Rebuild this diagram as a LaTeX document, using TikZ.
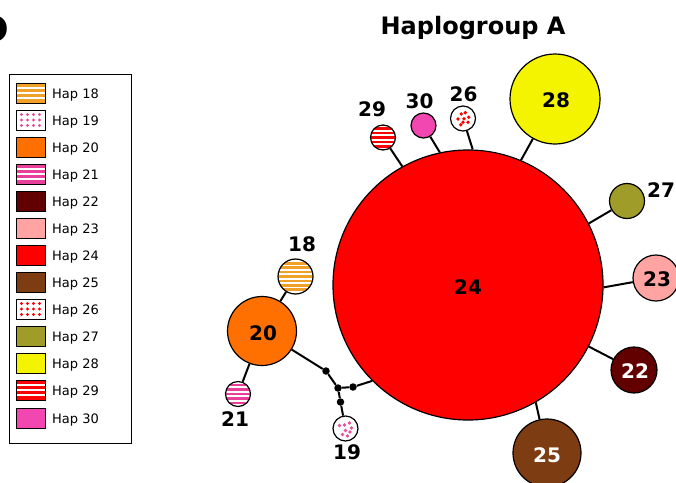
\documentclass[tikz,border=0pt]{standalone}
\usepackage{fontspec}
\setmainfont{DejaVu Sans}
\definecolor{hOrangeLt}{HTML}{F0A228}
\definecolor{hPinkDot}{HTML}{E8509E}
\definecolor{hOrange}{HTML}{FF7000}
\definecolor{hPinkStr}{HTML}{E8409A}
\definecolor{hMaroon}{HTML}{620000}
\definecolor{hSalmon}{HTML}{FFA3A3}
\definecolor{hRed}{HTML}{FF0000}
\definecolor{hBrown}{HTML}{7E3C12}
\definecolor{hOlive}{HTML}{A09C2A}
\definecolor{hYellow}{HTML}{F4F400}
\definecolor{hMagenta}{HTML}{F246B0}
\tikzset{
  hap/.style={circle, draw=black, line width=1.2pt, inner sep=0pt, minimum size=#1},
  link/.style={line width=2pt, black},
  median/.style={circle, fill=black, inner sep=0pt, minimum size=7.5pt},
  numlab/.style={font=\bfseries\fontsize{20}{20}\selectfont, inner sep=0pt},
  stripes/.style={fill=white, path picture={
    \foreach \k in {-5,...,5}
      \fill[#1, shift={(path picture bounding box.center)}]
        (-40pt,\k*4.4pt-1.2pt) rectangle ++(80pt,2.5pt);}},
  swatch/.style={draw=black, line width=0.8pt, minimum width=29pt, minimum height=20pt, inner sep=0pt},
  legtext/.style={font=\fontsize{13}{13}\selectfont, anchor=base west, inner sep=0pt},
}
\begin{document}
\begin{tikzpicture}[x=1pt, y=-1pt]
\useasboundingbox (0,0) rectangle (676,482);

% panel letter at the left margin
\node[font=\bfseries\fontsize{37}{37}\selectfont, anchor=base east, inner sep=0pt] (panel) at (9,42) {D};

% title
\node[font=\bfseries\fontsize{24}{24}\selectfont, anchor=base] (title) at (473,34) {Haplogroup A};

% ---------- legend ----------
\node[draw=black, line width=0.8pt, minimum width=122pt, minimum height=369pt, inner sep=0pt, anchor=north west] (legend) at (9,74) {};
\foreach \i/\y in {18/93,19/120,20/147,21/174,22/201,23/228,24/255,25/282,26/309,27/336,28/363,29/390,30/418}{
  \coordinate (row\i) at (30.5,\y);
  \node[legtext] (lt\i) at (52,\y+5) {Hap \i};
}
% striped swatches
\foreach \i/\col in {18/hOrangeLt,21/hPinkStr,29/hRed}{
  \node[swatch, fill=\col] (sw\i) at (row\i) {};
  \foreach \k in {-1,0,1}
    \fill[white] ([shift={(-14pt,\k*5pt-0.8pt)}]sw\i.center) rectangle ++(28pt,1.6pt);
  \node[swatch] at (row\i) {};
}
% dotted swatches
\foreach \i/\col in {19/hPinkDot,26/hRed}{
  \node[swatch, fill=white] (sw\i) at (row\i) {};
  \foreach \dx in {-9,-3,3,9}
    \foreach \dy in {-5.5,0,5.5}
      \fill[\col] ([shift={(\dx pt,\dy pt)}]sw\i.center) circle (1.7pt);
}
% plain swatches
\foreach \i/\col in {20/hOrange,22/hMaroon,23/hSalmon,24/hRed,25/hBrown,27/hOlive,28/hYellow,30/hMagenta}{
  \node[swatch, fill=\col] (sw\i) at (row\i) {};
}

% ---------- network ----------
\node[hap=270pt, fill=hRed] (h24) at (468,285) {};
\node[hap=90pt, fill=hYellow] (h28) at (555,99) {};
\node[hap=68pt, fill=hBrown] (h25) at (547,453) {};
\node[hap=46pt, fill=hMaroon] (h22) at (634,370) {};
\node[hap=46pt, fill=hSalmon] (h23) at (656,278) {};
\node[hap=35pt, fill=hOlive] (h27) at (627,201) {};
\node[hap=25pt, fill=white] (h26) at (463,118.5) {};
\node[hap=25pt, fill=hMagenta] (h30) at (423.5,125.5) {};
\node[hap=25pt, stripes=hRed] (h29) at (383,137.5) {};
\node[hap=35pt, stripes=hOrangeLt] (h18) at (295.5,276.5) {};
\node[hap=69pt, fill=hOrange] (h20) at (262,331) {};
\node[hap=25pt, stripes=hPinkStr] (h21) at (238,394) {};
\node[hap=25pt, fill=white] (h19) at (345.5,428.5) {};

% dots inside haplotypes 19 and 26
\foreach \dx/\dy in {-6/-3,-1/-3.5,4/-5.5,6/-0.5,0/2,4.5/3.5,-3/6,2/7.5}
  \fill[hPinkDot] ([shift={(\dx pt,-\dy pt)}]h19.center) circle (1.9pt);
\foreach \dx/\dy in {-1.7/-4.5,2.3/-5.8,-5/0.5,1/0.3,5.7/-1.2,0/3.8,5/3.8,-2.3/6.2}
  \fill[hRed] ([shift={(\dx pt,-\dy pt)}]h26.center) circle (1.9pt);

% median vectors
\node[median] (m1) at (326,371) {};
\node[median] (m2) at (338,388) {};
\node[median] (m3) at (353,387) {};
\node[median] (m4) at (340.5,402) {};

% connectors
\draw[link] (h24.67) -- (h28);
\draw[link] (h24.27) -- (h27);
\draw[link] (h24.-1) -- (h23);
\draw[link] (h24.-27.5) -- (h22);
\draw[link] (h24.-60) -- (h25);
\draw[link] (h24.88) -- (h26);
\draw[link] (h24.102) -- (h30);
\draw[link] (h24.119) -- (h29);
\draw[link] (h24.-135.5) -- (m3);
\draw[link] (m3) -- (m2);
\draw[link] (m2) -- (m1);
\draw[link] (m1) -- (h20);
\draw[link] (m2) -- (m4);
\draw[link] (m4) -- (h19);
\draw[link] (h20) -- (h18);
\draw[link] (h20) -- (h21);

% labels
\node[numlab] (l24) at (468,287) {24};
\node[numlab] (l28) at (556,100) {28};
\node[numlab, text=white] (l25) at (547,455) {25};
\node[numlab, text=white] (l22) at (635,371) {22};
\node[numlab] (l23) at (657,279) {23};
\node[numlab] (l20) at (263,333) {20};
\node[numlab] (l27) at (661,190) {27};
\node[numlab] (l26) at (463.5,94.5) {26};
\node[numlab] (l30) at (419.5,101.5) {30};
\node[numlab] (l29) at (372,109.5) {29};
\node[numlab] (l18) at (302,244.5) {18};
\node[numlab] (l21) at (235,419.5) {21};
\node[numlab] (l19) at (347,452.5) {19};
\end{tikzpicture}
\end{document}
